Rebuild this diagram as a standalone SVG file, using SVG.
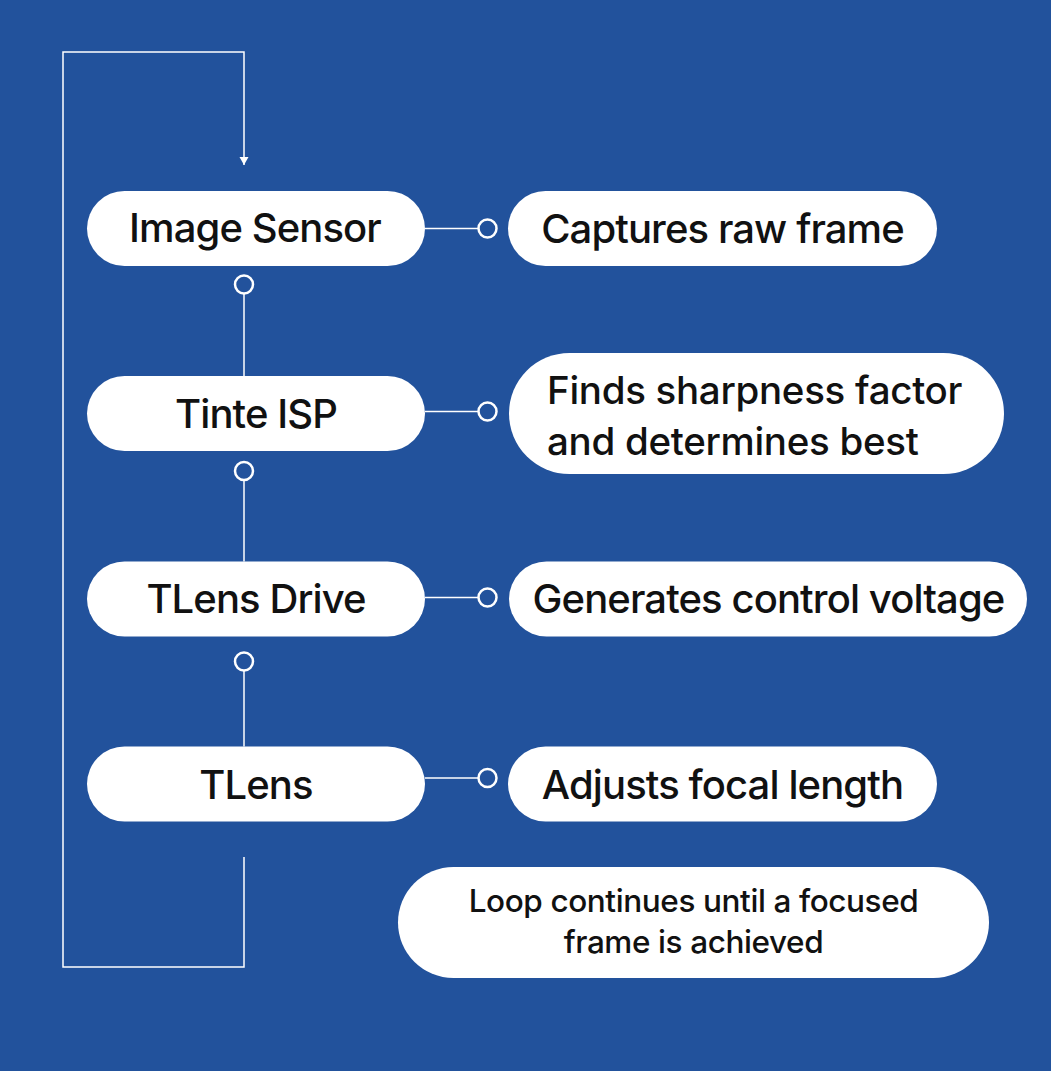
<svg xmlns="http://www.w3.org/2000/svg" width="1051" height="1071" viewBox="0 0 1051 1071">
<style>
.bg{fill:#22529c}
.pill{fill:#ffffff}
.lbl{font-family:Inter,"Liberation Sans",sans-serif;font-size:40px;font-weight:500;letter-spacing:-0.9px;fill:#111111;text-anchor:middle}
.desc{font-family:Inter,"Liberation Sans",sans-serif;font-size:38.5px;font-weight:500;letter-spacing:-0.3px;fill:#111111}
.note{font-family:Inter,"Liberation Sans",sans-serif;font-size:31.5px;font-weight:500;letter-spacing:-0.4px;fill:#111111;text-anchor:middle}
.wire{stroke:#ffffff;stroke-width:1.5;fill:none}
.dot{stroke:#ffffff;stroke-width:2.5;fill:none}
</style>
<defs>
<marker id="arr" markerWidth="10" markerHeight="10" refX="8" refY="5" orient="auto" markerUnits="userSpaceOnUse">
<path d="M0,0.5 L8,5 L0,9.5 Z" fill="#ffffff"/>
</marker>
</defs>
<rect class="bg" x="0" y="0" width="1051" height="1071"/>
<g id="connectors">
<path class="wire" d="M244,857 V967 H63 V52 H244 V165" marker-end="url(#arr)"/>
<line class="wire" x1="425" y1="228.5" x2="478" y2="228.5"/>
<circle class="dot" cx="487.5" cy="228.5" r="9"/>
<line class="wire" x1="425" y1="411.5" x2="478" y2="411.5"/>
<circle class="dot" cx="487.5" cy="411.5" r="9"/>
<line class="wire" x1="425" y1="597.5" x2="478" y2="597.5"/>
<circle class="dot" cx="487.5" cy="597.5" r="9"/>
<line class="wire" x1="425" y1="778" x2="478" y2="778"/>
<circle class="dot" cx="487.5" cy="778" r="9"/>
<circle class="dot" cx="244" cy="284.5" r="9"/>
<line class="wire" x1="244" y1="293.5" x2="244" y2="376"/>
<circle class="dot" cx="244" cy="471" r="9"/>
<line class="wire" x1="244" y1="480" x2="244" y2="561.5"/>
<circle class="dot" cx="244" cy="661.5" r="9"/>
<line class="wire" x1="244" y1="670.5" x2="244" y2="746.5"/>
</g>
<g id="image-sensor">
<rect class="pill" x="87" y="191" width="338" height="75" rx="37.5"/>
<text class="lbl" x="255" y="242">Image Sensor</text>
</g>
<g id="tinte-isp">
<rect class="pill" x="87" y="376" width="338" height="75" rx="37.5"/>
<text class="lbl" x="256" y="428">Tinte ISP</text>
</g>
<g id="tlens-drive">
<rect class="pill" x="87" y="561.5" width="338" height="75" rx="37.5"/>
<text class="lbl" x="256" y="612.5">TLens Drive</text>
</g>
<g id="tlens">
<rect class="pill" x="87" y="746.5" width="338" height="75" rx="37.5"/>
<text class="lbl" x="256" y="798.5">TLens</text>
</g>
<g id="captures">
<rect class="pill" x="508" y="191" width="429" height="75" rx="37.5"/>
<text class="lbl" x="722.5" y="242.5">Captures raw frame</text>
</g>
<g id="finds">
<rect class="pill" x="509" y="353" width="495" height="121" rx="60.5"/>
<text class="desc" x="547" y="404">Finds sharpness factor</text>
<text class="desc" x="547" y="455">and determines best</text>
</g>
<g id="generates">
<rect class="pill" x="509" y="561.5" width="518" height="75" rx="37.5"/>
<text class="lbl" x="768.5" y="612.5">Generates control voltage</text>
</g>
<g id="adjusts">
<rect class="pill" x="508" y="746.5" width="429" height="75" rx="37.5"/>
<text class="lbl" x="722.5" y="798.5">Adjusts focal length</text>
</g>
<g id="loop-note">
<rect class="pill" x="398" y="867" width="591" height="111" rx="55.5"/>
<text class="note" x="693.5" y="912">Loop continues until a focused</text>
<text class="note" x="693.5" y="953">frame is achieved</text>
</g>
</svg>
